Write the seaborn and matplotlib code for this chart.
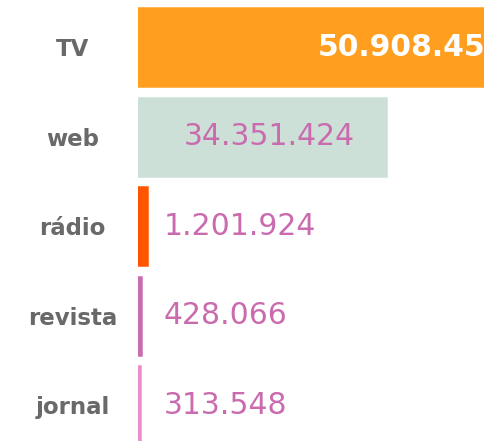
import pandas as pd
import matplotlib.pyplot as plt
import seaborn as sns

# Audience by media channel
categories = ['TV', 'web', 'rádio', 'revista', 'jornal']
values = [50908454, 34351424, 1201924, 428066, 313548]
value_labels = ['50.908.454', '34.351.424', '1.201.924', '428.066', '313.548']
bar_colors = ['#FF9E1F', '#CDE0D8', '#FF5500', '#C96DB1', '#EC8DCB']

df = pd.DataFrame({'canal': categories, 'valor': values})

sns.set_style('white')
plt.rcParams['font.family'] = ['DejaVu Sans']

fig = plt.figure(figsize=(4.84, 4.41), dpi=100)
ax = fig.add_axes([138 / 484, 0, 1 - 138 / 484, 1])

sns.barplot(data=df, y='canal', x='valor', hue='canal', palette=bar_colors,
            orient='h', width=0.87, saturation=1, legend=False, ax=ax)

# outline each bar in its own colour so the thin ones stay visible
for p in ax.patches:
    p.set_edgecolor(p.get_facecolor())
    p.set_linewidth(1.8)

xmax = 47.9e6
ax.set_xlim(0, xmax)
ax.set_ylim(4.40, -0.525)

# Value labels
for i, (v, lab) in enumerate(zip(values, value_labels)):
    kw = dict(va='center', fontsize=21.5)
    if v > xmax:
        ax.text(v, i, lab, ha='right', color='white', fontweight='bold', **kw)
    elif v > xmax * 0.3:
        ax.text(v * 0.53, i, lab, ha='center', color='#C96BAE', **kw)
    else:
        ax.text(xmax * 0.075, i, lab, ha='left', color='#C96BAE', **kw)

ax.set_xticks([])
ax.set_xlabel('')
ax.set_ylabel('')
ax.tick_params(axis='y', length=0, pad=47)
for t in ax.get_yticklabels():
    t.set_fontsize(16.5)
    t.set_fontweight('bold')
    t.set_color('#696969')
    t.set_horizontalalignment('center')
for s in ax.spines.values():
    s.set_visible(False)

fig.savefig('out.png', dpi=100)
